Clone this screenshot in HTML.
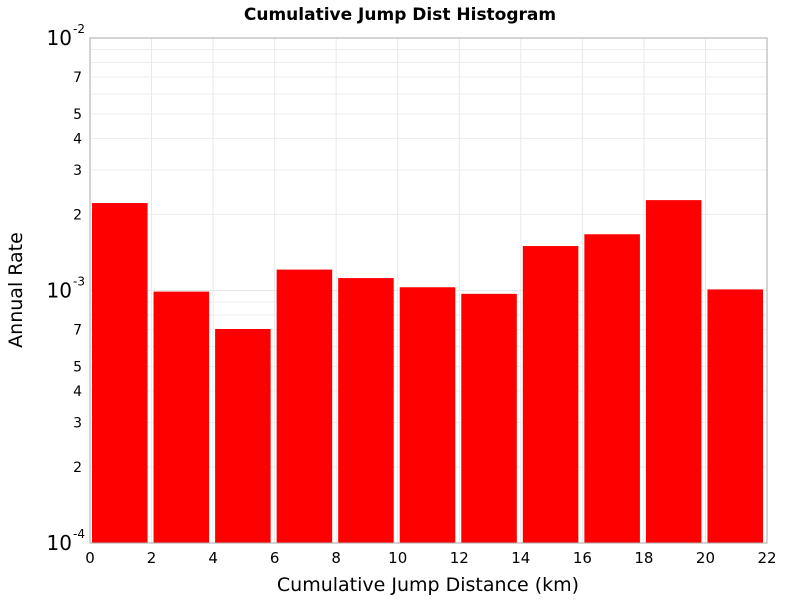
<!DOCTYPE html>
<html><head><meta charset="utf-8"><style>
body{margin:0;background:#fff;}
svg text{font-family:"DejaVu Sans","Liberation Sans",sans-serif;}
</style></head><body>
<svg id="chart" width="800" height="600" xmlns="http://www.w3.org/2000/svg">
<rect x="0" y="0" width="800" height="600" fill="#fff"/>
<text x="400" y="20" text-anchor="middle" font-size="17" font-weight="bold">Cumulative Jump Dist Histogram</text>
<g id="grid"></g>
<g id="bars"></g>
<rect x="90" y="38" width="677" height="505" fill="none" stroke="#aaa"/>
<g id="axes"></g>
<text x="428" y="591" text-anchor="middle" font-size="19">Cumulative Jump Distance (km)</text>
<text transform="translate(22,290) rotate(-90)" text-anchor="middle" font-size="19">Annual Rate</text>
</svg>
<script>
const binStarts=[0,2,4,6,8,10,12,14,16,18,20];
const rates=[2.22e-3,9.9e-4,7.04e-4,1.21e-3,1.12e-3,1.03e-3,9.7e-4,1.50e-3,1.67e-3,2.28e-3,1.01e-3];
const xTicks=[0,2,4,6,8,10,12,14,16,18,20,22];
const yMinor=[2,3,4,5,7];
const NS="http://www.w3.org/2000/svg";
const X0=90,X1=767,Y0=543,Y1=38,xMin=0,xMax=22,lMin=-4,lMax=-2;
const xs=v=>X0+(v-xMin)/(xMax-xMin)*(X1-X0);
const ys=v=>Y0-(Math.log10(v)-lMin)/(lMax-lMin)*(Y0-Y1);
function mk(t,a,p){const e=document.createElementNS(NS,t);for(const k in a)e.setAttribute(k,a[k]);p.appendChild(e);return e;}
const grid=document.getElementById('grid'),bars=document.getElementById('bars'),axes=document.getElementById('axes');
for(const t of xTicks){
 const l=mk('line',{x1:xs(t),x2:xs(t),y1:Y1,y2:Y0,stroke:'#e8e8e8'},grid);
 
 
 const tk=mk('text',{x:xs(t),y:Y0+20,'text-anchor':'middle','font-size':15},axes);
 tk.textContent=t;
 
 
}
for(let d=lMin;d<=lMax;d++){
 const y=ys(Math.pow(10,d));
 const l=mk('line',{x1:X0,x2:X1,y1:y,y2:y,stroke:'#e8e8e8'},grid);
 
 
 const tk=mk('text',{x:72,y:y+7,'text-anchor':'end','font-size':20},axes);
 tk.textContent='10';
 
 
 const ex=mk('text',{x:73,y:y-5,'font-size':12},axes);
 ex.textContent=String(d);
 
 
 if(d<lMax){
  for(let m=2;m<=9;m++){
   const yy=ys(m*Math.pow(10,d));
   const g=mk('line',{x1:X0,x2:X1,y1:yy,y2:yy,stroke:'#eeeeee'},grid);
   
   
   if(yMinor.includes(m)){
    const tl=mk('text',{x:82,y:yy+5,'text-anchor':'end','font-size':14},axes);
    tl.textContent=m;
    
    
   }
  }
 }
}
binStarts.forEach((s,i)=>{
 const x=xs(s)+2,w=xs(s+2)-xs(s)-6,y=ys(rates[i]);
 const r=mk('rect',{x:x,y:y,width:w,height:Y0-y,fill:'#ff0000'},bars);
 
 
});
</script>
</body></html>
